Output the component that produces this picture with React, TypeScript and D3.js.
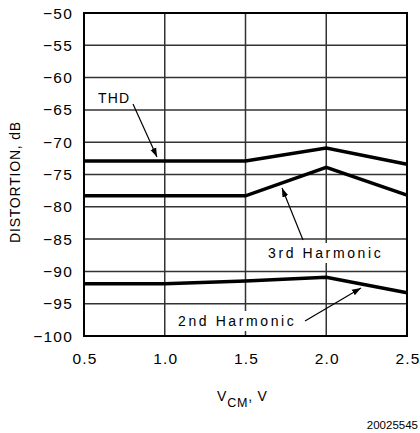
import React from "react";
import * as d3 from "d3";

const vcm = [0.5, 1.0, 1.5, 2.0, 2.5];
const thd = [-72.9, -72.9, -72.9, -70.9, -73.4];
const third = [-78.3, -78.3, -78.3, -73.9, -78.2];
const second = [-91.9, -91.9, -91.5, -90.9, -93.3];
const xTicks = [0.5, 1.0, 1.5, 2.0, 2.5];
const yTicks = [-50, -55, -60, -65, -70, -75, -80, -85, -90, -95, -100];

const W = 420, H = 433;
const L = 84, R = 407, T = 13, B = 336;
const FONT = "'Liberation Sans', Arial, sans-serif";

export default function App() {
  const x = d3.scaleLinear().domain([0.5, 2.5]).range([L, R]);
  const y = d3.scaleLinear().domain([-100, -50]).range([B, T]);
  const line = d3.line<[number, number]>().x(d => x(d[0])).y(d => y(d[1]));
  const series = [thd, third, second];
  const fmt = (v: number) => (v < 0 ? "\u2212" + Math.abs(v) : String(v));
  return (
    <svg width={W} height={H} style={{ position: "absolute", left: 0, top: 0, background: "#fff" }}>
      <defs>
        <marker id="ah" viewBox="0 0 10 10" refX="10" refY="5" markerWidth="9" markerHeight="9" orient="auto" markerUnits="userSpaceOnUse">
          <path d="M0,1.5 L10,5 L0,8.5 Z" fill="#000" />
        </marker>
      </defs>
      <rect x={0} y={0} width={W} height={H} fill="#fff" />
      {yTicks.map(t => (
        <line key={"gy" + t} x1={L} x2={R} y1={y(t)} y2={y(t)} stroke="#333" strokeWidth={1.5} />
      ))}
      {xTicks.map(t => (
        <line key={"gx" + t} x1={x(t)} x2={x(t)} y1={T} y2={B} stroke="#333" strokeWidth={1.5} />
      ))}
      <rect x={L} y={T} width={R - L} height={B - T} fill="none" stroke="#000" strokeWidth={2} />
      {series.map((s, i) => (
        <path key={i} d={line(vcm.map((v, j) => [v, s[j]] as [number, number])) || ""} fill="none" stroke="#000" strokeWidth={3.5} strokeLinejoin="miter" />
      ))}
      {yTicks.map(t => (
        <text key={"ty" + t} x={73} y={y(t) + 5.5} textAnchor="end" fontFamily={FONT} fontSize={15.5} letterSpacing={1.2} fill="#000">{fmt(t)}</text>
      ))}
      {xTicks.map(t => (
        <text key={"tx" + t} x={x(t) + 1} y={364} textAnchor="middle" fontFamily={FONT} fontSize={15.5} letterSpacing={1.2} fill="#000">{t.toFixed(1)}</text>
      ))}
      <text transform="translate(20,182) rotate(-90)" textAnchor="middle" fontFamily={FONT} fontSize={14} letterSpacing={0.8} fill="#000">DISTORTION, dB</text>
      <text x={217} y={401} fontFamily={FONT} fontSize={14} fill="#000" letterSpacing={0.8}>
        V<tspan fontSize={12.5} dy={6}>CM</tspan><tspan dy={-6}>,  V</tspan>
      </text>
      <text x={418} y={429} textAnchor="end" fontFamily={FONT} fontSize={11.5} fill="#000">20025545</text>
      {/* annotations */}
      <text x={98} y={103} fontFamily={FONT} fontSize={14} letterSpacing={1.2} fill="#000">THD</text>
      <line x1={133} y1={104} x2={157} y2={157} stroke="#000" strokeWidth={1.2} markerEnd="url(#ah)" />
      <rect x={265} y={243} width={124} height={20} fill="#fff" />
      <text x={268} y={258} fontFamily={FONT} fontSize={14} letterSpacing={2.6} fill="#000">3rd Harmonic</text>
      <line x1={303} y1={240} x2={282} y2={188} stroke="#000" strokeWidth={1.2} markerEnd="url(#ah)" />
      <rect x={175} y={311} width={126} height={20} fill="#fff" />
      <text x={178} y={326} fontFamily={FONT} fontSize={14} letterSpacing={2.6} fill="#000">2nd Harmonic</text>
      <line x1={305} y1={321} x2={361} y2={288} stroke="#000" strokeWidth={1.2} markerEnd="url(#ah)" />
    </svg>
  );
}
